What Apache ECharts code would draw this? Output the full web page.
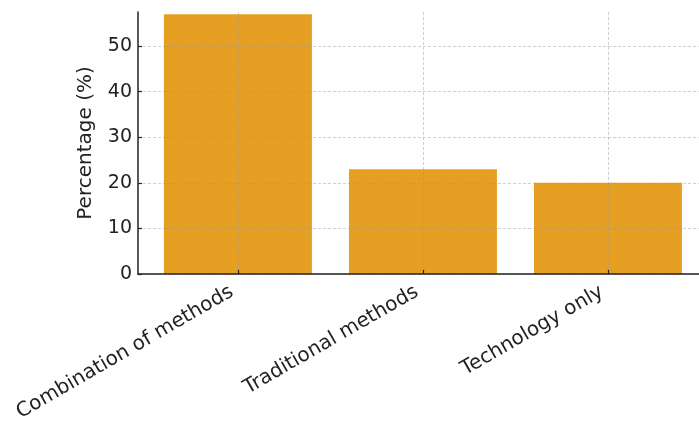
<!DOCTYPE html>
<html>
<head>
<meta charset="utf-8">
<script src="https://cdn.jsdelivr.net/npm/echarts@6/dist/echarts.min.js"></script>
<style>html,body{margin:0;padding:0;background:#fff;}#c{width:699px;height:421px;}</style>
</head>
<body>
<div id="c"></div>
<script>
const categories = ["Combination of methods", "Traditional methods", "Technology only"];
const values = [57, 23, 20];
const yTicks = [0, 10, 20, 30, 40, 50];

const chart = echarts.init(document.getElementById('c'), null, {renderer: 'canvas'});
const font = 'DejaVu Sans';
const gridStyle = {show: true, lineStyle: {color: 'rgba(150,150,150,0.45)', type: [3, 2], width: 1}};
chart.setOption({
  animation: false,
  backgroundColor: '#fff',
  grid: {left: 138, top: 12, width: 561, height: 262, containLabel: false, outerBoundsMode: 'none'},
  xAxis: {
    type: 'value', min: -0.54, max: 2.492, z: 3,
    axisLine: {show: true, onZero: false, lineStyle: {color: '#222', width: 1.5}},
    axisTick: {show: true, inside: true, length: 4, customValues: [0, 1, 2], lineStyle: {color: '#222', width: 1.2}},
    axisLabel: {
      customValues: [0, 1, 2], rotate: 30, margin: 13, padding: [0, 7, 0, 0],
      fontFamily: font, fontSize: 20, color: '#222',
      formatter: v => categories[Math.round(v)]
    },
    splitLine: gridStyle
  },
  yAxis: {
    type: 'value', min: 0, max: 57.5, interval: 10, z: 3,
    name: 'Percentage (%)', nameLocation: 'middle', nameGap: 42, nameRotate: 90,
    nameTextStyle: {fontFamily: font, fontSize: 20, color: '#222'},
    axisLine: {show: true, onZero: false, lineStyle: {color: '#222', width: 1.5}},
    axisTick: {show: true, inside: true, length: 4, customValues: yTicks, lineStyle: {color: '#222', width: 1.2}},
    axisLabel: {
      margin: 6, fontFamily: font, fontSize: 19, color: '#222',
      customValues: yTicks
    },
    splitLine: gridStyle
  },
  series: [{
    type: 'bar', z: 2,
    data: values.map((v, i) => [i, v]),
    barWidth: 148,
    itemStyle: {color: '#E5A024'}
  }]
});
</script>
</body>
</html>
